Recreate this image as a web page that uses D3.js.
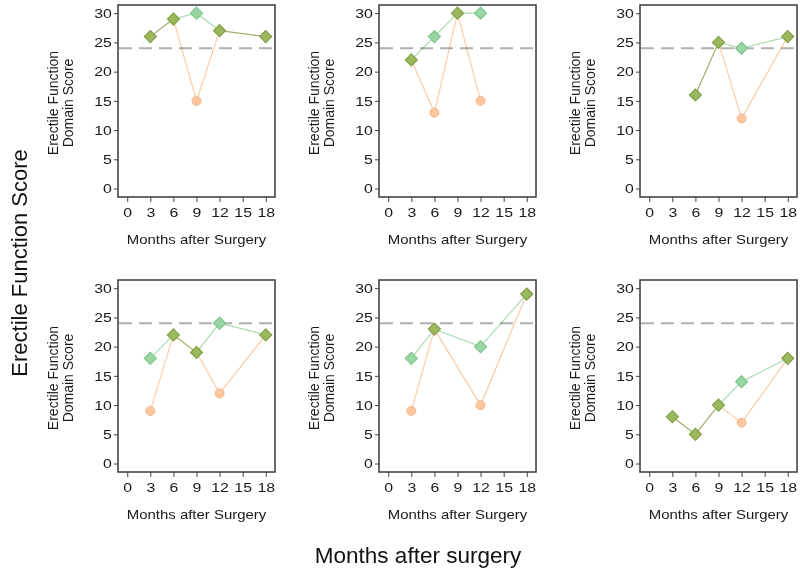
<!DOCTYPE html>
<html>
<head>
<meta charset="utf-8">
<script src="https://cdn.jsdelivr.net/npm/d3@7"></script>
<style>
  body { margin: 0; background: #fff; }
  svg { display: block; font-family: "Liberation Sans", Arial, sans-serif; }
</style>
</head>
<body>
<svg id="chart" width="800" height="575"></svg>
<script>
// ---- data ----
const xTickLabels = [0, 3, 6, 9, 12, 15, 18];
const yTickLabels = [0, 5, 10, 15, 20, 25, 30];
const thresholdScore = 24;
const panelMonths = [
  [3, 6, 9, 12, 18],
  [3, 6, 9, 12],
  [6, 9, 12, 18],
  [3, 6, 9, 12, 18],
  [3, 6, 12, 18],
  [3, 6, 9, 12, 18]
];
const greenScores = [
  [26, 29, 30, 27, 26],
  [22, 26, 30, 30],
  [16, 25, 24, 26],
  [18, 22, 19, 24, 22],
  [18, 23, 20, 29],
  [8, 5, 10, 14, 18]
];
const orangeScores = [
  [26, 29, 15, 27, 26],
  [22, 13, 30, 15],
  [16, 25, 12, 26],
  [9, 22, 19, 12, 22],
  [9, 23, 10, 29],
  [8, 5, 10, 7, 18]
];
const panelTitleX = "Months after Surgery";
const panelTitleY = ["Erectile Function", "Domain Score"];
const mainTitleX = "Months after surgery";
const mainTitleY = "Erectile Function Score";

// ---- layout ----
const svg = d3.select("#chart");
const colX = [118, 379, 640];
const rowY = [5, 280];
const W = 157, H = 192;

const x = d3.scaleLinear().domain([-1.2, 19.2]).range([0, W]);
const y = d3.scaleLinear().domain([-1.45, 31.4]).range([H, 0]);

const greenLine = "#a8dab0", orangeLine = "#facda8";
const greenFill = "#9ad6a2", greenStroke = "#7cc58c";
const orangeFill = "#fbc7a0", orangeStroke = "#f5b688";
const oliveFill = "#9cb85c", oliveStroke = "#82a046";

const diamondPath = (s) => `M0,${-s}L${s},0L0,${s}L${-s},0Z`;

panelMonths.forEach((months, i) => {
  const col = i % 3, row = Math.floor(i / 3);
  const g = svg.append("g").attr("transform", `translate(${colX[col]},${rowY[row]})`);

  // axes
  g.append("g").attr("transform", `translate(0,${H})`)
    .call(d3.axisBottom(x).tickValues(xTickLabels).tickSize(5).tickPadding(6))
    .call(a => a.select(".domain").remove())
    .call(a => a.selectAll("line").attr("stroke", "#444"))
    .call(a => a.selectAll("text").attr("font-size", 13).attr("fill", "#1a1a1a")
      .attr("transform", "scale(1.22,1)"));

  g.append("g")
    .call(d3.axisLeft(y).tickValues(yTickLabels).tickSize(4).tickPadding(1))
    .call(a => a.select(".domain").remove())
    .call(a => a.selectAll("line").attr("stroke", "#444"))
    .call(a => a.selectAll("text").attr("font-size", 13).attr("fill", "#1a1a1a")
      .attr("transform", "scale(1.22,1)"));

  // frame
  g.append("rect").attr("x", 0).attr("y", 0).attr("width", W).attr("height", H)
    .attr("fill", "none").attr("stroke", "#3a3a3a").attr("stroke-width", 1.5);

  // threshold
  g.append("line").attr("x1", 1).attr("x2", W - 1)
    .attr("y1", y(thresholdScore)).attr("y2", y(thresholdScore))
    .attr("stroke", "#b0b0b0").attr("stroke-width", 2).attr("stroke-dasharray", "13,7");

  const gPts = months.map((m, k) => ({ m, v: greenScores[i][k] }));
  const oPts = months.map((m, k) => ({ m, v: orangeScores[i][k], same: orangeScores[i][k] === greenScores[i][k] }));

  const line = d3.line().x(d => x(d.m)).y(d => y(d.v));
  g.append("path").datum(oPts).attr("d", line).attr("fill", "none")
    .attr("stroke", orangeLine).attr("stroke-width", 1.2).style("mix-blend-mode", "multiply");
  g.append("path").datum(gPts).attr("d", line).attr("fill", "none")
    .attr("stroke", greenLine).attr("stroke-width", 1.2).style("mix-blend-mode", "multiply");

  // orange-only circles
  g.selectAll(".oc").data(oPts.filter(d => !d.same)).enter().append("circle")
    .attr("cx", d => x(d.m)).attr("cy", d => y(d.v)).attr("r", 4.5)
    .attr("fill", orangeFill).attr("stroke", orangeStroke).attr("stroke-width", 1);

  // green diamonds (olive where both series coincide)
  g.selectAll(".gd").data(gPts.map((d, k) => ({ ...d, same: oPts[k].same }))).enter().append("path")
    .attr("transform", d => `translate(${x(d.m)},${y(d.v)})`)
    .attr("d", diamondPath(6))
    .attr("fill", d => d.same ? oliveFill : greenFill)
    .attr("stroke", d => d.same ? oliveStroke : greenStroke)
    .attr("stroke-width", 1.2);

  // panel titles
  g.append("text").attr("x", W / 2).attr("y", H + 47)
    .attr("text-anchor", "middle").attr("font-size", 13).attr("fill", "#1a1a1a")
    .attr("transform", `translate(${W / 2},0) scale(1.15,1) translate(${-W / 2},0)`)
    .text(panelTitleX);
  panelTitleY.forEach((t, k) => {
    g.append("text")
      .attr("transform", `translate(${-60 + k * 15},${H / 2 + 2}) rotate(-90)`)
      .attr("text-anchor", "middle").attr("font-size", 14).attr("fill", "#1a1a1a")
      .text(t);
  });
});

// main titles
svg.append("text").attr("x", 418).attr("y", 563).attr("text-anchor", "middle")
  .attr("font-size", 22.5).attr("fill", "#111").text(mainTitleX);
svg.append("text").attr("transform", "translate(27,263) rotate(-90)")
  .attr("text-anchor", "middle").attr("font-size", 22).attr("fill", "#111").text(mainTitleY);
</script>
</body>
</html>
